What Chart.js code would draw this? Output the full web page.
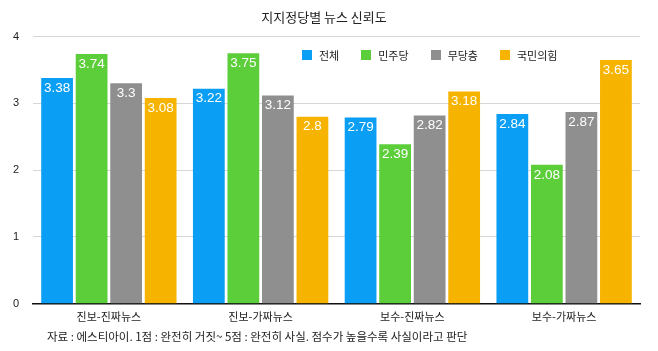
<!DOCTYPE html>
<html><head><meta charset="utf-8">
<script src="https://cdn.jsdelivr.net/npm/chart.js@4/dist/chart.umd.min.js"></script>
<style>
html,body{margin:0;padding:0;background:#fff;}
#wrap{position:relative;width:658px;height:351px;font-family:"Noto Sans CJK KR","Noto Sans",sans-serif;}
#legend{position:absolute;left:302px;top:49px;display:flex;font-size:11px;line-height:12px;color:#222;}
#legend span{display:flex;align-items:center;margin-right:22px;}
#legend i{display:inline-block;width:10px;height:10px;margin-right:7px;}
#note{position:absolute;left:47px;top:330px;font-size:11.5px;line-height:12px;color:#222;}
</style></head>
<body><div id="wrap"><canvas id="c" width="658" height="351"></canvas>
<div id="legend"></div><div id="note">자료 : 에스티아이. 1점 : 완전히 거짓~ 5점 : 완전히 사실. 점수가 높을수록 사실이라고 판단</div></div>
<script>
const categories = ["진보-진짜뉴스","진보-가짜뉴스","보수-진짜뉴스","보수-가짜뉴스"];
const seriesNames = ["전체","민주당","무당층","국민의힘"];
const total = [3.38,3.22,2.79,2.84];
const democratic = [3.74,3.75,2.39,2.08];
const independent = [3.3,3.12,2.82,2.87];
const ppp = [3.08,2.8,3.18,3.65];
const yTicks = [0,1,2,3,4];
const colors = ["#0a9ef5","#5cce3a","#8f8f8f","#f6b400"];
const values = [total,democratic,independent,ppp];

const lg = document.getElementById('legend');
seriesNames.forEach((n,i)=>{const s=document.createElement('span');s.innerHTML='<i style="background:'+colors[i]+'"></i>'+n;lg.appendChild(s);});

const labelPlugin = {
  id:'labels',
  afterDatasetsDraw(chart){
    const ctx = chart.ctx;
    ctx.save();
    ctx.font = '13.5px "Liberation Sans", Arial, sans-serif';
    ctx.fillStyle = '#fff';
    ctx.textAlign = 'center';
    ctx.textBaseline = 'middle';
    chart.data.datasets.forEach((ds,di)=>{
      chart.getDatasetMeta(di).data.forEach((bar,i)=>{
        ctx.fillText(String(ds.data[i]), bar.x, bar.y+10);
      });
    });
    ctx.restore();
  }
};

new Chart(document.getElementById('c'),{
  type:'bar',
  data:{labels:categories,datasets:seriesNames.map((n,i)=>({label:n,data:values[i],backgroundColor:colors[i],borderWidth:0}))},
  options:{
    responsive:false,animation:false,
    layout:{padding:{left:8,right:18,top:0,bottom:22}},
    datasets:{bar:{categoryPercentage:0.91,barPercentage:0.92}},
    plugins:{
      legend:{display:false},tooltip:{enabled:false},
      title:{display:true,text:'지지정당별 뉴스 신뢰도',color:'#222',font:{family:'"Noto Sans CJK KR"',size:13,weight:'normal'},padding:{top:9,bottom:12}}
    },
    scales:{
      x:{grid:{display:false,drawTicks:false},border:{display:true,color:'#111',width:1.5},ticks:{color:'#222',font:{family:'"Noto Sans CJK KR"',size:11},padding:6}},
      y:{min:0,max:4,afterBuildTicks(ax){ax.ticks=yTicks.map(v=>({value:v}));},
         grid:{color:'#d6d6d6',drawTicks:false},border:{display:false},
         ticks:{color:'#222',font:{family:'"Liberation Sans"',size:11},padding:14},
         afterFit(ax){ax.width=25;}}
    }
  },
  plugins:[labelPlugin]
});
</script></body></html>
